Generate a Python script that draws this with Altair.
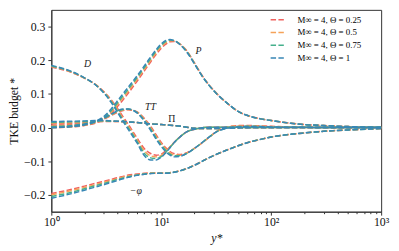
import altair as alt
import pandas as pd

# wall-normal coordinate y*
y_star = [1, 1.5, 2, 2.5, 3, 3.5, 4, 4.5, 5, 6, 7, 8, 9, 10, 11, 12, 13, 15, 17, 20,
          23, 27, 32, 40, 50, 65, 80, 100, 150, 200, 300, 500, 1000]

thetas = ["0.25", "0.5", "0.75", "1"]
series_labels = ["M∞ = 4, Θ = 0.25", "M∞ = 4, Θ = 0.5", "M∞ = 4, Θ = 0.75", "M∞ = 4, Θ = 1"]
colors = ["#f0625f", "#f5a259", "#45b08c", "#3887b5"]

# Production P
P_025 = [0.0, 0.002, 0.006, 0.013, 0.025, 0.042, 0.063, 0.083, 0.102, 0.137, 0.168, 0.195, 0.218, 0.236, 0.248, 0.255, 0.256, 0.247, 0.229, 0.193, 0.16, 0.128, 0.101, 0.072, 0.048, 0.033, 0.026, 0.021, 0.013, 0.009, 0.006, 0.003, 0.001]
P_050 = [0.0, 0.002, 0.007, 0.015, 0.028, 0.046, 0.069, 0.089, 0.108, 0.143, 0.173, 0.2, 0.223, 0.241, 0.252, 0.258, 0.258, 0.247, 0.228, 0.192, 0.159, 0.128, 0.101, 0.072, 0.048, 0.033, 0.026, 0.021, 0.013, 0.009, 0.006, 0.003, 0.001]
P_075 = [0.0, 0.003, 0.008, 0.016, 0.03, 0.05, 0.074, 0.095, 0.114, 0.148, 0.178, 0.205, 0.228, 0.245, 0.256, 0.26, 0.259, 0.246, 0.227, 0.191, 0.158, 0.127, 0.1, 0.072, 0.048, 0.033, 0.026, 0.021, 0.013, 0.009, 0.006, 0.003, 0.001]
P_100 = [0.0, 0.003, 0.008, 0.018, 0.033, 0.055, 0.08, 0.101, 0.12, 0.153, 0.183, 0.21, 0.232, 0.249, 0.259, 0.262, 0.259, 0.245, 0.225, 0.19, 0.158, 0.127, 0.1, 0.072, 0.048, 0.033, 0.026, 0.021, 0.013, 0.009, 0.006, 0.003, 0.001]

# Viscous diffusion D
D_025 = [0.18, 0.165, 0.147, 0.129, 0.107, 0.083, 0.057, 0.032, 0.01, -0.03, -0.062, -0.077, -0.082, -0.079, -0.069, -0.057, -0.045, -0.026, -0.013, -0.005, -0.001, 0.001, 0.001, 0.001, 0.001, 0.0, 0.0, 0.0, 0.0, 0.0, 0.0, 0.0, 0.0]
D_050 = [0.182, 0.166, 0.147, 0.129, 0.106, 0.08, 0.053, 0.027, 0.005, -0.035, -0.069, -0.084, -0.087, -0.083, -0.071, -0.058, -0.045, -0.026, -0.013, -0.005, -0.001, 0.001, 0.001, 0.001, 0.001, 0.0, 0.0, 0.0, 0.0, 0.0, 0.0, 0.0, 0.0]
D_075 = [0.183, 0.167, 0.148, 0.128, 0.104, 0.078, 0.049, 0.022, 0.0, -0.04, -0.076, -0.09, -0.092, -0.086, -0.073, -0.059, -0.046, -0.026, -0.013, -0.005, -0.001, 0.001, 0.001, 0.001, 0.001, 0.0, 0.0, 0.0, 0.0, 0.0, 0.0, 0.0, 0.0]
D_100 = [0.185, 0.168, 0.148, 0.128, 0.103, 0.075, 0.045, 0.018, -0.005, -0.045, -0.083, -0.096, -0.096, -0.088, -0.075, -0.06, -0.046, -0.026, -0.013, -0.005, -0.001, 0.001, 0.001, 0.001, 0.001, 0.0, 0.0, 0.0, 0.0, 0.0, 0.0, 0.0, 0.0]

# Turbulent transport TT
TT_025 = [0.007, 0.009, 0.013, 0.018, 0.026, 0.036, 0.045, 0.051, 0.053, 0.047, 0.028, 0.004, -0.022, -0.044, -0.06, -0.071, -0.077, -0.08, -0.075, -0.062, -0.048, -0.03, -0.011, 0.002, 0.006, 0.006, 0.005, 0.004, 0.002, 0.001, 0.0, 0.0, 0.0]
TT_050 = [0.005, 0.007, 0.012, 0.018, 0.027, 0.037, 0.047, 0.052, 0.054, 0.046, 0.025, 0.0, -0.026, -0.048, -0.064, -0.075, -0.081, -0.082, -0.076, -0.062, -0.048, -0.03, -0.011, 0.001, 0.005, 0.005, 0.004, 0.003, 0.002, 0.001, 0.0, 0.0, 0.0]
TT_075 = [0.003, 0.006, 0.011, 0.018, 0.027, 0.039, 0.048, 0.054, 0.055, 0.045, 0.022, -0.004, -0.031, -0.052, -0.068, -0.079, -0.084, -0.084, -0.077, -0.062, -0.047, -0.029, -0.012, -0.001, 0.003, 0.004, 0.003, 0.002, 0.001, 0.001, 0.0, 0.0, 0.0]
TT_100 = [0.0, 0.004, 0.01, 0.018, 0.028, 0.04, 0.05, 0.055, 0.055, 0.044, 0.02, -0.008, -0.035, -0.056, -0.072, -0.082, -0.087, -0.085, -0.077, -0.062, -0.047, -0.029, -0.012, -0.002, 0.002, 0.003, 0.003, 0.002, 0.001, 0.001, 0.0, 0.0, 0.0]

# Pressure term Pi
PI_025 = [0.011, 0.013, 0.015, 0.017, 0.018, 0.018, 0.018, 0.017, 0.016, 0.015, 0.013, 0.011, 0.01, 0.009, 0.008, 0.007, 0.006, 0.004, 0.001, -0.002, -0.003, -0.003, -0.003, -0.002, -0.001, 0.0, 0.0, 0.0, 0.0, 0.0, 0.0, 0.0, 0.0]
PI_050 = [0.013, 0.015, 0.017, 0.018, 0.019, 0.019, 0.018, 0.017, 0.016, 0.015, 0.013, 0.011, 0.01, 0.009, 0.008, 0.007, 0.006, 0.004, 0.001, -0.002, -0.003, -0.003, -0.003, -0.002, -0.001, 0.0, 0.0, 0.0, 0.0, 0.0, 0.0, 0.0, 0.0]
PI_075 = [0.015, 0.017, 0.018, 0.019, 0.02, 0.019, 0.019, 0.018, 0.017, 0.015, 0.013, 0.011, 0.01, 0.009, 0.008, 0.007, 0.006, 0.004, 0.001, -0.002, -0.003, -0.003, -0.003, -0.002, -0.001, 0.0, 0.0, 0.0, 0.0, 0.0, 0.0, 0.0, 0.0]
PI_100 = [0.018, 0.019, 0.02, 0.021, 0.021, 0.02, 0.019, 0.018, 0.017, 0.015, 0.013, 0.011, 0.01, 0.009, 0.008, 0.007, 0.006, 0.004, 0.001, -0.002, -0.003, -0.003, -0.003, -0.002, -0.001, 0.0, 0.0, 0.0, 0.0, 0.0, 0.0, 0.0, 0.0]

# Dissipation -phi
PHI_025 = [-0.196, -0.184, -0.174, -0.166, -0.16, -0.154, -0.149, -0.145, -0.141, -0.138, -0.136, -0.135, -0.135, -0.135, -0.135, -0.134, -0.132, -0.128, -0.122, -0.112, -0.102, -0.09, -0.079, -0.066, -0.054, -0.042, -0.035, -0.028, -0.02, -0.016, -0.011, -0.007, -0.003]
PHI_050 = [-0.2, -0.188, -0.178, -0.17, -0.163, -0.157, -0.152, -0.147, -0.144, -0.14, -0.137, -0.136, -0.135, -0.135, -0.135, -0.134, -0.132, -0.128, -0.122, -0.112, -0.102, -0.09, -0.079, -0.066, -0.054, -0.042, -0.035, -0.028, -0.02, -0.016, -0.011, -0.007, -0.003]
PHI_075 = [-0.205, -0.193, -0.182, -0.173, -0.166, -0.16, -0.154, -0.15, -0.146, -0.141, -0.138, -0.136, -0.136, -0.136, -0.135, -0.135, -0.133, -0.128, -0.122, -0.112, -0.102, -0.09, -0.079, -0.066, -0.054, -0.042, -0.035, -0.028, -0.02, -0.016, -0.011, -0.007, -0.003]
PHI_100 = [-0.21, -0.197, -0.186, -0.177, -0.17, -0.163, -0.157, -0.152, -0.148, -0.142, -0.139, -0.137, -0.136, -0.136, -0.136, -0.135, -0.133, -0.128, -0.122, -0.112, -0.102, -0.09, -0.079, -0.066, -0.054, -0.042, -0.035, -0.028, -0.02, -0.016, -0.011, -0.007, -0.003]

terms = {
    "P": [P_025, P_050, P_075, P_100],
    "D": [D_025, D_050, D_075, D_100],
    "TT": [TT_025, TT_050, TT_075, TT_100],
    "Pi": [PI_025, PI_050, PI_075, PI_100],
    "phi": [PHI_025, PHI_050, PHI_075, PHI_100],
}

# term annotations (label, y*, value)
ann_italic = [("D", 2.14, 0.19), ("P", 21.8, 0.228), ("TT", 7.97, 0.06), ("−φ", 5.87, -0.19)]
ann_upright = [("Π", 12.5, 0.025)]

minor_ticks = [2, 3, 4, 5, 6, 7, 8, 9, 20, 30, 40, 50, 60, 70, 80, 90,
               200, 300, 400, 500, 600, 700, 800, 900]

rows = []
for term, arrs in terms.items():
    for lab, arr in zip(series_labels, arrs):
        for ys, v in zip(y_star, arr):
            rows.append({"y": ys, "v": v, "term": term, "series": lab})
df = pd.DataFrame(rows)

FONT = "Liberation Serif"
xscale = alt.Scale(type="log", domain=[1, 1000])
yscale = alt.Scale(domain=[-0.25, 0.35], nice=False)

xaxis = alt.Axis(values=[1, 10, 100, 1000], title="y*", titleFontStyle="italic",
                 labelExpr="datum.value == 1 ? '10⁰' : datum.value == 10 ? '10¹' : datum.value == 100 ? '10²' : '10³'",
                 tickSize=3.5, labelPadding=2, titlePadding=5, grid=False, orient="bottom")
yaxis = alt.Axis(values=[-0.2, -0.1, 0.0, 0.1, 0.2, 0.3], format=".1f", title="TKE budget *",
                 tickSize=3.5, labelPadding=3, titlePadding=3, grid=False)

color = alt.Color("series:N", scale=alt.Scale(domain=series_labels, range=colors),
                  legend=alt.Legend(title=None, orient="none", legendX=222, legendY=2,
                                    symbolType="stroke", symbolDash=[5.5, 2.4],
                                    symbolStrokeWidth=1.5, symbolSize=210,
                                    labelFontSize=9, labelFont=FONT, rowPadding=-1,
                                    labelOffset=12, padding=0))

line_layers = []
for lab in series_labels:
    line_layers.append(
        alt.Chart(df).transform_filter(alt.datum.series == lab)
        .mark_line(strokeDash=[5.5, 2.4], strokeWidth=1.5, interpolate="monotone")
        .encode(x=alt.X("y:Q", scale=xscale, axis=xaxis),
                y=alt.Y("v:Q", scale=yscale, axis=yaxis),
                color=color, detail="term:N")
    )

ann_i = pd.DataFrame(ann_italic, columns=["label", "x", "yv"])
ann_u = pd.DataFrame(ann_upright, columns=["label", "x", "yv"])
text_i = alt.Chart(ann_i).mark_text(font=FONT, fontSize=10, fontStyle="italic", color="#222").encode(
    x=alt.X("x:Q", scale=xscale, axis=xaxis), y=alt.Y("yv:Q", scale=yscale, axis=yaxis), text="label:N")
text_u = alt.Chart(ann_u).mark_text(font=FONT, fontSize=10, color="#222").encode(
    x=alt.X("x:Q", scale=xscale, axis=xaxis), y=alt.Y("yv:Q", scale=yscale, axis=yaxis), text="label:N")

inner = alt.layer(*line_layers, text_i, text_u)

minor = alt.Chart(pd.DataFrame({"m": minor_ticks})).mark_point(opacity=0).encode(
    x=alt.X("m:Q", scale=xscale,
            axis=alt.Axis(values=minor_ticks, labels=False, tickSize=2, domain=False,
                          title=None, grid=False, orient="bottom")))

chart = alt.layer(inner, minor).resolve_axis(x="independent").properties(
    width=335, height=205,
    autosize=alt.AutoSizeParams(type="none"),
    padding={"left": 44, "top": 0, "right": 10, "bottom": 36},
).configure_view(stroke="#333", strokeWidth=1).configure_axis(
    labelFont=FONT, titleFont=FONT, labelFontSize=12, titleFontSize=12,
    labelColor="#111", titleColor="#111", domainColor="#333", tickColor="#333",
    titleFontWeight="normal", labelFlush=False
)

chart.save("out.html", embed_options={"renderer": "svg", "actions": False})
